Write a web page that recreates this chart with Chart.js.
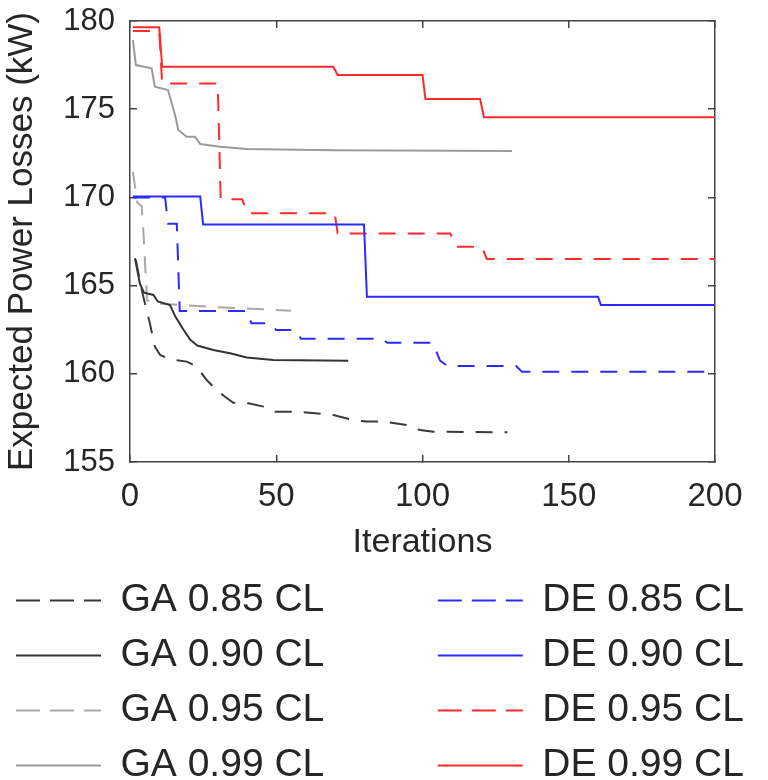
<!DOCTYPE html>
<html>
<head>
<meta charset="utf-8">
<title>Expected Power Losses</title>
<script src="https://cdn.jsdelivr.net/npm/chart.js@4.4.1/dist/chart.umd.min.js"></script>
<style>
  html, body { margin: 0; padding: 0; background: #fff; overflow: hidden; }
</style>
</head>
<body>
<canvas id="myChart" width="768" height="795"></canvas>
<script>
// iterations / expected power losses (kW)
const ga85Iter = [2, 4, 6.8, 8.5, 10.3, 13.7, 19.4, 22.8, 26.2, 29.6, 32.5, 35.3, 40.5, 45.6, 49.6, 58, 69.5, 76.4, 80.9, 86.6, 94.6, 99.1, 103.7, 129];
const ga85Loss = [166.45, 164.75, 162.86, 161.54, 161.07, 160.82, 160.69, 160.4, 159.65, 159.08, 158.7, 158.36, 158.33, 158.14, 157.85, 157.85, 157.66, 157.38, 157.29, 157.29, 157.1, 156.81, 156.72, 156.68];

const ga90Iter = [1.7, 3.4, 4.8, 8, 9.5, 13.7, 15.5, 18.3, 20.5, 23, 28.5, 34.2, 39.9, 49, 74.6];
const ga90Loss = [166.55, 165.1, 164.6, 164.47, 164.1, 163.9, 163.24, 162.5, 161.95, 161.6, 161.35, 161.16, 160.93, 160.78, 160.74];

const ga95Iter = [1, 2.5, 4, 4.6, 5.8, 7, 27, 55];
const ga95Loss = [171.45, 169.7, 169.5, 168, 164.2, 164.0, 163.8, 163.58];

const ga99Iter = [1, 2, 7.4, 8.5, 13, 15.4, 16.5, 19.4, 22.2, 24, 30.8, 40, 69.5, 130.6];
const ga99Loss = [178.92, 177.5, 177.32, 176.28, 176.09, 174.67, 173.82, 173.44, 173.44, 173.03, 172.87, 172.74, 172.67, 172.63];

const de85Iter = [1, 12, 13, 16, 17, 40, 41.5, 48, 50, 56.5, 58.5, 86, 88, 103.5, 106, 108.5, 132, 134, 200];
const de85Loss = [170.0, 170.0, 168.5, 168.5, 163.56, 163.56, 162.86, 162.86, 162.48, 162.48, 161.99, 161.99, 161.76, 161.76, 160.75, 160.44, 160.44, 160.12, 160.12];

const de90Iter = [1, 24, 25, 80, 81, 160, 161, 200];
const de90Loss = [170.05, 170.05, 168.47, 168.47, 164.37, 164.37, 163.9, 163.9];

const de95Iter = [1, 10, 11, 30, 31, 38.3, 40.3, 70, 71, 109.5, 111.5, 120.3, 122, 200];
const de95Loss = [179.43, 179.43, 176.45, 176.45, 169.89, 169.89, 169.1, 169.1, 167.96, 167.96, 167.2, 167.2, 166.51, 166.51];

const de99Iter = [1, 10, 11, 69.5, 71, 100, 101, 119.7, 121, 200];
const de99Loss = [179.64, 179.64, 177.4, 177.4, 176.94, 176.94, 175.58, 175.58, 174.54, 174.54];

const xTicks = [0, 50, 100, 150, 200];
const yTicks = [155, 160, 165, 170, 175, 180];

const fontFamily = "'Liberation Sans', Arial, Helvetica, sans-serif";
const textColor = '#262626';
const axisColor = '#444444';
const dash = [17, 12];

function toPoints(xs, ys) {
    return xs.map((x, i) => ({ x: x, y: ys[i] }));
}

function series(label, xs, ys, color, dashed) {
    return {
        label: label,
        data: toPoints(xs, ys),
        borderColor: color,
        backgroundColor: color,
        borderWidth: 2,
        borderDash: dashed ? dash : [],
        pointRadius: 0,
        tension: 0,
        fill: false
    };
}

// legend is laid out row by row, so GA/DE alternate to get two columns
const datasets = [
    series('GA 0.85 CL', ga85Iter, ga85Loss, '#3a3a3a', true),
    series('DE 0.85 CL', de85Iter, de85Loss, '#2b2bff', true),
    series('GA 0.90 CL', ga90Iter, ga90Loss, '#333333', false),
    series('DE 0.90 CL', de90Iter, de90Loss, '#2b2bff', false),
    series('GA 0.95 CL', ga95Iter, ga95Loss, '#a8a8a8', true),
    series('DE 0.95 CL', de95Iter, de95Loss, '#ff2b2b', true),
    series('GA 0.99 CL', ga99Iter, ga99Loss, '#9a9a9a', false),
    series('DE 0.99 CL', de99Iter, de99Loss, '#ff2b2b', false)
];

const innerGrid = {
    drawOnChartArea: false,
    drawTicks: true,
    tickLength: -7,
    color: axisColor,
    lineWidth: 1.5
};
const frame = { display: true, color: axisColor, width: 1.5 };

function fixedTicks(values) {
    return (scale) => {
        scale.ticks = values.map((v) => ({ value: v }));
    };
}

// fixed box sizes, and no extra room asked for the end labels
function fixSize(w, h) {
    return (scale) => {
        if (w !== null) scale.width = w;
        if (h !== null) scale.height = h;
        scale.paddingTop = 0;
        scale.paddingBottom = 0;
        scale.paddingLeft = 0;
        scale.paddingRight = 0;
    };
}

const ctx = document.getElementById('myChart');

const chart = new Chart(ctx, {
    type: 'line',
    data: { datasets: datasets },
    options: {
        responsive: false,
        animation: false,
        layout: { padding: 0 },
        scales: {
            x: {
                type: 'linear',
                position: 'bottom',
                min: 0,
                max: 200,
                afterBuildTicks: fixedTicks(xTicks),
                ticks: { padding: 22, color: textColor, font: { family: fontFamily, size: 33 } },
                grid: innerGrid,
                border: frame,
                title: {
                    display: true,
                    text: 'Iterations',
                    color: textColor,
                    font: { family: fontFamily, size: 34 },
                    padding: { top: 0, bottom: 2 }
                },
                afterFit: fixSize(null, 103)
            },
            x2: {
                type: 'linear',
                position: 'top',
                min: 0,
                max: 200,
                afterBuildTicks: fixedTicks(xTicks),
                ticks: { display: false },
                grid: innerGrid,
                border: frame,
                afterFit: fixSize(null, 21)
            },
            y: {
                type: 'linear',
                position: 'left',
                min: 155,
                max: 180,
                afterBuildTicks: fixedTicks(yTicks),
                ticks: { padding: 22, color: textColor, font: { family: fontFamily, size: 31 } },
                grid: innerGrid,
                border: frame,
                title: {
                    display: true,
                    text: 'Expected Power Losses (kW)',
                    color: textColor,
                    font: { family: fontFamily, size: 35 },
                    padding: { top: 1, bottom: 0 }
                },
                afterFit: fixSize(130, null)
            },
            y2: {
                type: 'linear',
                position: 'right',
                min: 155,
                max: 180,
                afterBuildTicks: fixedTicks(yTicks),
                ticks: { display: false },
                grid: innerGrid,
                border: frame,
                afterFit: fixSize(53, null)
            }
        },
        plugins: {
            tooltip: { enabled: false },
            legend: {
                position: 'bottom',
                align: 'start',
                labels: {
                    usePointStyle: true,
                    pointStyle: 'line',
                    pointStyleWidth: 85,
                    padding: 16,
                    color: textColor,
                    font: { family: fontFamily, size: 39 },
                    generateLabels: (chart) => {
                        const items = Chart.defaults.plugins.legend.labels.generateLabels(chart);
                        items.forEach((item) => {
                            const ds = chart.data.datasets[item.datasetIndex];
                            // pad the left column so the DE column lines up
                            if (item.text.startsWith('GA')) {
                                item.text = item.text + '         ';
                            }
                            item.strokeStyle = ds.borderColor;
                            item.lineWidth = 2;
                            item.lineDash = ds.borderDash.length ? [24, 10] : [];
                        });
                        return items;
                    }
                }
            }
        }
    }
});
</script>
</body>
</html>
